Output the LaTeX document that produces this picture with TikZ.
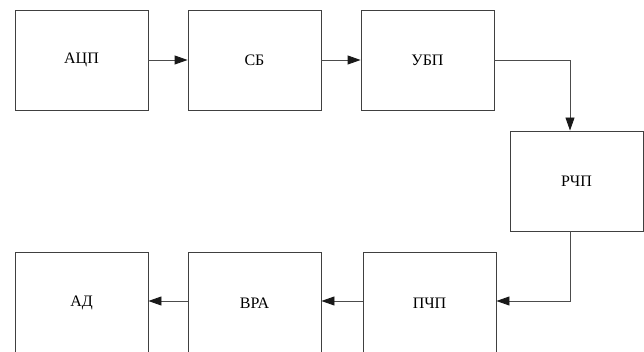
\documentclass[tikz,border=0pt]{standalone}
\usepackage{fontspec}
\setmainfont{Liberation Serif}
\usetikzlibrary{arrows.meta}
\tikzstyle{block} = [draw=black!75, line width=0.9pt, minimum width=133pt, minimum height=100pt, inner sep=0pt]
\tikzstyle{link}  = [draw=black!70, line width=0.9pt, -{Triangle[length=13pt,width=9pt,fill=black!90,color=black!90]}]

\begin{document}
\begin{tikzpicture}[x=1pt, y=-1pt, font=\fontsize{16}{18}\selectfont]

    \clip (0,0) rectangle (644,352);

    % top row
    \node(adc)[block] at (81.5,60) {АЦП};
    \node(sb)[block] at (254.5,60) {СБ};
    \node(ubp)[block] at (427.5,60) {УБП};

    % right block
    \node(rchp)[block] at (576.5,181) {РЧП};

    % bottom row, cut at the lower edge
    \node(pchp)[block, minimum height=102pt] at (429.5,303) {ПЧП};
    \node(vra)[block, minimum height=102pt] at (254.5,303) {ВРА};
    \node(ad)[block, minimum height=102pt] at (81.5,303) {АД};

    \draw[link] (adc) -- (sb);
    \draw[link] (sb) -- (ubp);
    \draw[link] (ubp.east) -| ([xshift=-6.5pt]rchp.north);
    \draw[link] ([xshift=-6.5pt]rchp.south) |- ([yshift=2pt]pchp.east);
    \draw[link] ([yshift=2pt]pchp.west) -- ([yshift=2pt]vra.east);
    \draw[link] ([yshift=2pt]vra.west) -- ([yshift=2pt]ad.east);

\end{tikzpicture}
\end{document}
